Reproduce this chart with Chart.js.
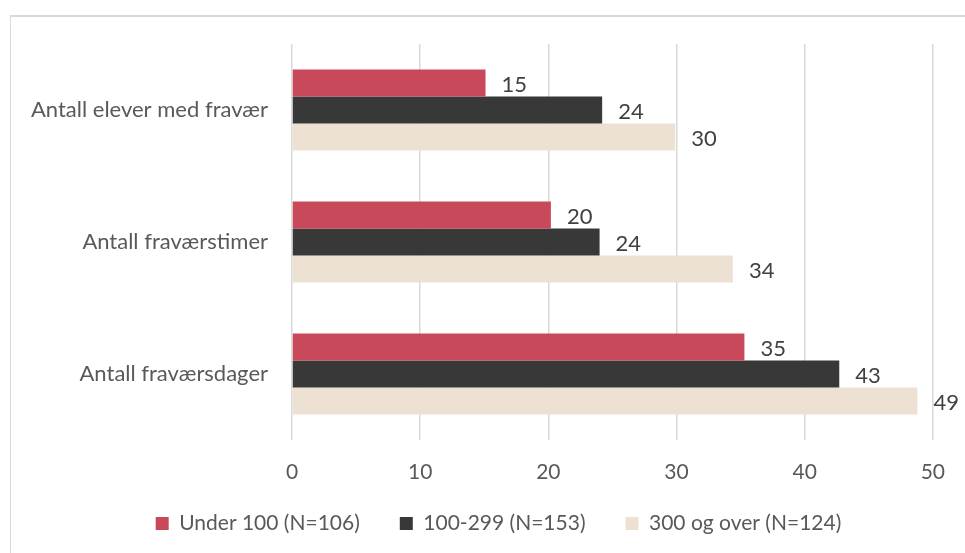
<!DOCTYPE html>
<html>
<head>
<meta charset="utf-8">
<script src="https://cdn.jsdelivr.net/npm/chart.js@4.4.1/dist/chart.umd.min.js"></script>
<style>
  html, body { margin: 0; padding: 0; background: #fff; }
  #frame { position: absolute; left: 10px; top: 15px; width: 1000px; height: 600px; border: 1px solid #d9d9d9; border-top-width: 2px; }
  #wrap { position: absolute; left: 0; top: 0; width: 965px; height: 553px; }
</style>
</head>
<body>
<div id="frame"></div>
<div id="wrap"><canvas id="chart" width="965" height="553"></canvas></div>
<script>
const categories = ['Antall elever med fravær', 'Antall fraværstimer', 'Antall fraværsdager'];
const seriesNames = ['Under 100 (N=106)', '100-299 (N=153)', '300 og over (N=124)'];
const under100 = [15.1, 20.2, 35.3];
const mid100to299 = [24.2, 24.0, 42.7];
const over300 = [29.9, 34.4, 48.8];
const xTicks = [0, 10, 20, 30, 40, 50];

const FONT = 'Lato, "Open Sans", sans-serif';

/* --- value labels at bar ends ---------------------------------------- */
const barLabels = {
  id: 'barLabels',
  afterDatasetsDraw(chart) {
    const c = chart.ctx;
    c.save();
    c.font = '22px ' + FONT;
    c.fillStyle = '#404040';
    c.textAlign = 'left';
    c.textBaseline = 'middle';
    chart.data.datasets.forEach((ds, i) => {
      chart.getDatasetMeta(i).data.forEach((bar, j) => {
        c.fillText(Math.round(ds.data[j]), bar.x + 16, bar.y + 2);
      });
    });
    c.restore();
  }
};

// legend sits a bit right of the canvas middle and closer to the axis in the original
const legendShift = {
  id: 'legendShift',
  afterLayout(chart) {
    const lg = chart.legend;
    if (!lg) return;
    lg.left = 61;
    lg.right = 936;
    lg.top = 473;
    lg.height = 75;
    lg.bottom = lg.top + lg.height;
  }
};

new Chart(document.getElementById('chart'), {
  type: 'bar',
  data: {
    labels: categories,
    datasets: [
      { label: seriesNames[0], data: under100,    backgroundColor: '#C84A5A' },
      { label: seriesNames[1], data: mid100to299, backgroundColor: '#383838' },
      { label: seriesNames[2], data: over300,     backgroundColor: '#ECE1D3' }
    ]
  },
  options: {
    indexAxis: 'y',
    responsive: false,
    animation: false,
    devicePixelRatio: 1,
    layout: { padding: { top: 44, right: 25, bottom: 14, left: 0 } },
    datasets: { bar: { categoryPercentage: 0.615, barPercentage: 1 } },
    scales: {
      x: {
        min: 0, max: 50,
        afterBuildTicks: s => { s.ticks = xTicks.map(v => ({ value: v })); },
        afterFit: s => { s.height = 49; },
        grid: { color: '#d9d9d9', lineWidth: 1.5, drawTicks: false },
        border: { display: false },
        ticks: { padding: 20, color: '#595959', font: { family: FONT, size: 21 } }
      },
      y: {
        afterFit: s => { s.width = 292; },
        grid: { display: false, drawTicks: false },
        border: { display: false },
        ticks: { padding: 24, color: '#595959', font: { family: FONT, size: 22 } }
      }
    },
    plugins: {
      legend: {
        position: 'bottom',
        maxHeight: 50,
        labels: {
          boxWidth: 13, boxHeight: 13, padding: 40,
          color: '#595959', font: { family: FONT, size: 21 }
        }
      },
      tooltip: { enabled: false }
    }
  },
  plugins: [barLabels, legendShift]
});
</script>
</body>
</html>
